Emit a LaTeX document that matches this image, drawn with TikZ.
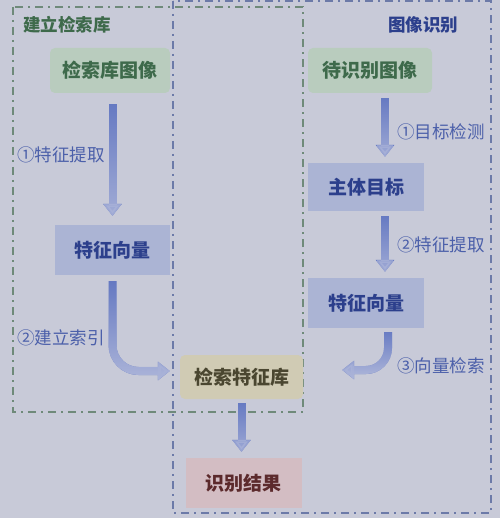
\documentclass[tikz,border=0pt]{standalone}
\usepackage{fontspec}
\setmainfont{Noto Sans CJK SC}
\usetikzlibrary{arrows.meta,fadings}
\definecolor{bg}{HTML}{C8CAD8}
\definecolor{gfill}{HTML}{B9CCBE}
\definecolor{gtext}{HTML}{3E6A4B}
\definecolor{bfill}{HTML}{ABB4D4}
\definecolor{btext}{HTML}{2C3F8C}
\definecolor{yfill}{HTML}{D0CBB4}
\definecolor{ytext}{HTML}{4A4630}
\definecolor{pfill}{HTML}{D3BDC3}
\definecolor{ptext}{HTML}{5C2A2C}
\definecolor{arrdark}{HTML}{5E73C0}
\definecolor{arrlight}{HTML}{A9B2D8}
\definecolor{lbl}{HTML}{4C60AA}
\definecolor{gline}{HTML}{6F8A7A}
\definecolor{bline}{HTML}{6C7AA8}
\tikzset{
  box/.style={minimum width=#1, inner sep=0pt, font=\fontsize{19}{19}\selectfont\bfseries},
  gbox/.style={box=120pt, minimum height=45pt, fill=gfill, text=gtext, rounded corners=5pt},
  vbox/.style={box=116pt, minimum height=50pt, fill=bfill, text=btext},
  arr/.style={line width=8pt, arrdark, -{Triangle[width=18pt,length=12pt]}},
  arrl/.style={line width=8pt, arrlight, path fading=north, -{Triangle[width=18pt,length=12pt]}},
  lab/.style={anchor=west, inner sep=0pt, text=lbl, font=\fontsize{17.5}{17.5}\selectfont},
  ttl/.style={anchor=west, inner sep=0pt, font=\fontsize{17.5}{17.5}\selectfont\bfseries},
  frame/.style={line width=1.4pt, dash pattern=on 8pt off 5pt on 2pt off 5pt}
}
\begin{document}
\begin{tikzpicture}[x=1pt,y=-1pt]
\fill[bg] (0,0) rectangle (500,518);
\useasboundingbox (0,0) rectangle (500,518);
% frames
\draw[frame, gline] (13,7) rectangle (303,412);
\draw[frame, bline] (173,1) rectangle (491,513);
% titles
\node[ttl, text=gtext] (t1) at (23,25) {建立检索库};
\node[ttl, text=btext] (t2) at (388,25) {图像识别};
% nodes
\node[gbox] (g1) at (110,70.5) {检索库图像};
\node[vbox, minimum width=115pt] (v1) at (112.5,250) {特征向量};
\node[box=123pt, minimum height=44pt, fill=yfill, text=ytext, rounded corners=5pt] (db) at (241.5,377) {检索特征库};
\node[box=116pt, minimum height=50pt, fill=pfill, text=ptext] (res) at (243.5,483) {识别结果};
\node[gbox, minimum width=124pt] (g2) at (370,70.5) {待识别图像};
\node[vbox, minimum height=48pt] (m) at (366,187) {主体目标};
\node[vbox] (v2) at (366,303) {特征向量};
% connectors
\foreach \s in {arr,arrl}{
\draw[\s, shorten <=11pt, shorten >=9pt] (v1.north |- g1.south) -- (v1.north);
\draw[\s, rounded corners=26pt, shorten <=6pt, shorten >=10pt] (v1.south) |- ([yshift=6pt]db.west);
\draw[\s, shorten <=5pt, shorten >=6pt] ([xshift=19pt]m.north |- g2.south) -- ([xshift=19pt]m.north);
\draw[\s, shorten <=5pt, shorten >=6pt] ([xshift=19pt]v2.north |- m.south) -- ([xshift=19pt]v2.north);
\draw[\s, rounded corners=22pt, shorten <=4pt, shorten >=39pt] ([xshift=22pt]v2.south) |- ([yshift=7pt]db.east);
\draw[\s, shorten <=4pt, shorten >=6pt] (db.south) -- (db.south |- res.north);
}
% labels
\node[lab] (l1) at (17,155) {①特征提取};
\node[lab] (l2) at (17,338) {②建立索引};
\node[lab] (l3) at (397,132) {①目标检测};
\node[lab] (l4) at (397,245) {②特征提取};
\node[lab] (l5) at (397,366) {③向量检索};
\end{tikzpicture}
\end{document}
